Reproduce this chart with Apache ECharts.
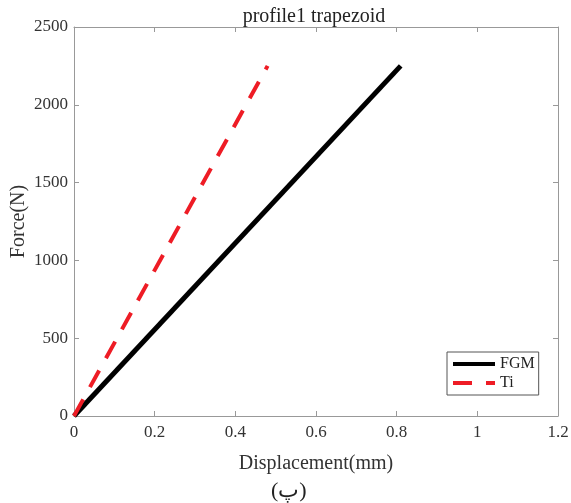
<!DOCTYPE html>
<html>
<head>
<meta charset="utf-8">
<script src="https://cdn.jsdelivr.net/npm/echarts@6/dist/echarts.min.js"></script>
<style>
html,body{margin:0;padding:0;background:#fff;}
#chart{width:571px;height:503px;}
</style>
</head>
<body>
<div id="chart"></div>
<script>
// Data
var seriesNames = ['FGM', 'Ti'];
var fgmX = [0, 0.81];
var fgmY = [0, 2250];
var tiX = [0, 0.48];
var tiY = [0, 2250];
var xTicks = [0, 0.2, 0.4, 0.6, 0.8, 1, 1.2];
var yTicks = [0, 500, 1000, 1500, 2000, 2500];
var titleText = 'profile1 trapezoid';
var xName = 'Displacement(mm)';
var yName = 'Force(N)';
var captionText = '(پ)';

function pairs(xs, ys){ return xs.map(function(x,i){ return [x, ys[i]]; }); }

var font = 'Liberation Serif';
var axisColor = '#999';
var labelColor = '#333';

var chart = echarts.init(document.getElementById('chart'));
var gridL = 74, gridR = 13, gridT = 27, gridB = 87;

function baseX(show, pos){
  return {
    type:'value', min:xTicks[0], max:xTicks[xTicks.length-1], interval:0.2, position:pos,
    axisLine:{show:true, onZero:false, lineStyle:{color:axisColor, width:1}},
    axisTick:{show:true, inside:true, length:5, lineStyle:{color:axisColor}},
    axisLabel:{show:show, color:labelColor, fontFamily:font, fontSize:17, margin:8,
      formatter:function(v){ return String(Math.round(v*10)/10); }},
    splitLine:{show:false}
  };
}
function baseY(show, pos){
  return {
    type:'value', min:yTicks[0], max:yTicks[yTicks.length-1], interval:500, position:pos,
    axisLine:{show:true, onZero:false, lineStyle:{color:axisColor, width:1}},
    axisTick:{show:true, inside:true, length:5, lineStyle:{color:axisColor}},
    axisLabel:{show:show, color:labelColor, fontFamily:font, fontSize:17, margin:6,
      formatter:function(v){ return String(v); }},
    splitLine:{show:false}
  };
}

var xBottom = baseX(true, 'bottom');
xBottom.name = xName;
xBottom.nameLocation = 'middle';
xBottom.nameGap = 38;
xBottom.nameMoveOverlap = false;
xBottom.nameTextStyle = {color:labelColor, fontFamily:font, fontSize:20};
var yLeft = baseY(true, 'left');
yLeft.name = yName;
yLeft.nameLocation = 'middle';
yLeft.nameGap = 45;
yLeft.nameMoveOverlap = false;
yLeft.nameTextStyle = {color:labelColor, fontFamily:font, fontSize:20};

var option = {
  animation:false,
  backgroundColor:'#fff',
  title:{text:titleText, left:309, top:2, textAlign:'center',
    textStyle:{color:'#222', fontFamily:font, fontSize:20, fontWeight:'normal'}},
  grid:{left:gridL, right:gridR, top:gridT, bottom:gridB, containLabel:false, outerBoundsMode:'none'},
  xAxis:[xBottom, baseX(false,'top')],
  yAxis:[yLeft, baseY(false,'right')],
  legend:{
    data:seriesNames, orient:'vertical', left:447, top:352,
    backgroundColor:'#fff', borderColor:'#555', borderWidth:1,
    padding:[4,4,4,4], itemGap:3, itemWidth:42, itemHeight:14,
    itemStyle:{opacity:0},
    lineStyle:{width:4},
    textStyle:{color:'#222', fontFamily:font, fontSize:16}
  },
  series:[
    {name:seriesNames[0], type:'line', data:pairs(fgmX,fgmY), symbol:'none', showSymbol:false,
     lineStyle:{color:'#000', width:5}, itemStyle:{color:'#000'}, z:3},
    {name:seriesNames[1], type:'line', data:pairs(tiX,tiY), symbol:'none', showSymbol:false,
     lineStyle:{color:'#ee1c25', width:4, type:[19,14]}, itemStyle:{color:'#ee1c25'}, z:4}
  ],
  graphic:[{type:'text', left:271, top:480,
    style:{text:captionText, fill:'#222', font:'22px "Liberation Serif", "DejaVu Serif", serif'}}]
};
chart.setOption(option);
</script>
</body>
</html>
